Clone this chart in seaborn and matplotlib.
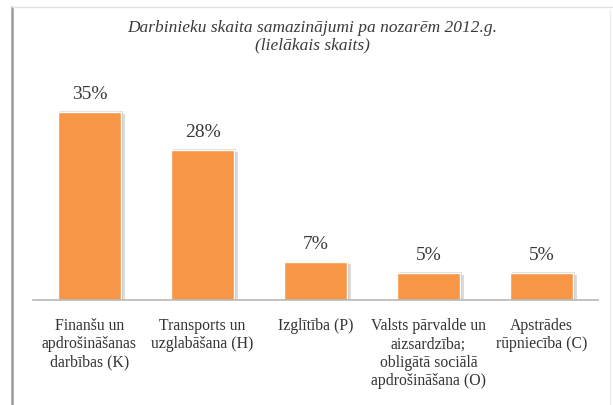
import matplotlib
matplotlib.use("Agg")
import matplotlib.pyplot as plt
import matplotlib.patheffects as pe
from matplotlib.lines import Line2D
import seaborn as sns
import pandas as pd

# data
categories = [
    "Finanšu un\napdrošināšanas\ndarbības (K)",
    "Transports un\nuzglabāšana (H)",
    "Izglītība (P)",
    "Valsts pārvalde un\naizsardzība;\nobligātā sociālā\napdrošināšana (O)",
    "Apstrādes\nrūpniecība (C)",
]
values = [35, 28, 7, 5, 5]
value_labels = ["35%", "28%", "7%", "5%", "5%"]
title = "Darbinieku skaita samazinājumi pa nozarēm 2012.g.\n(lielākais skaits)"

df = pd.DataFrame({"nozare": categories, "proc": values})

sns.set_style("white")
plt.rcParams["font.family"] = ["Liberation Serif", "DejaVu Serif"]

W, H = 613, 405
fig = plt.figure(figsize=(W / 100, H / 100), dpi=100)
ax = fig.add_axes([33 / W, 1 - 300 / H, (598 - 33) / W, 200 / H])

sns.barplot(data=df, x="nozare", y="proc", color="#F79646", saturation=1,
            width=0.56, ax=ax)

# soft grey drop shadow like the office chart
for bar in ax.patches:
    bar.set_path_effects([
        pe.SimplePatchShadow(offset=(3, -1.5), shadow_rgbFace="#9a9a9a", alpha=0.35),
        pe.SimplePatchShadow(offset=(1.5, 0.5), shadow_rgbFace="#9a9a9a", alpha=0.35),
        pe.Normal()])

for i, (v, lab) in enumerate(zip(values, value_labels)):
    ax.annotate(lab, (i, v), xytext=(0, 6.5), textcoords="offset points",
                ha="center", va="bottom", fontsize=14, color="#3a3a3a")

ax.set_xlim(-0.5, 4.5)
ax.set_ylim(0, 35 * 200 / 188)
ax.set_yticks([])
ax.set_xlabel("")
ax.set_ylabel("")
for s in ["top", "right", "left"]:
    ax.spines[s].set_visible(False)
ax.spines["bottom"].set_color("#b8b8b8")
ax.spines["bottom"].set_linewidth(1.2)
ax.tick_params(axis="x", length=0, pad=13, labelsize=11.3, labelcolor="#333333")
for t in ax.get_xticklabels():
    t.set_linespacing(1.2)
    t.set_ha("center")

fig.text(312 / W, 1 - 20 / H, title, ha="center", va="top", fontsize=12.5,
         style="italic", color="#3a3a3a", linespacing=1.15)

# outer frame of the chart picture
fig.add_artist(Line2D([12 / W, 12 / W], [0, 1 - 7 / H], color="#9a9a9a", lw=1.8))
fig.add_artist(Line2D([12 / W, 1], [1 - 7 / H, 1 - 7 / H], color="#e2e2e2", lw=1))
fig.add_artist(Line2D([610 / W, 610 / W], [0, 1 - 10 / H], color="#ececec", lw=1))

fig.savefig("out.png", dpi=100)
